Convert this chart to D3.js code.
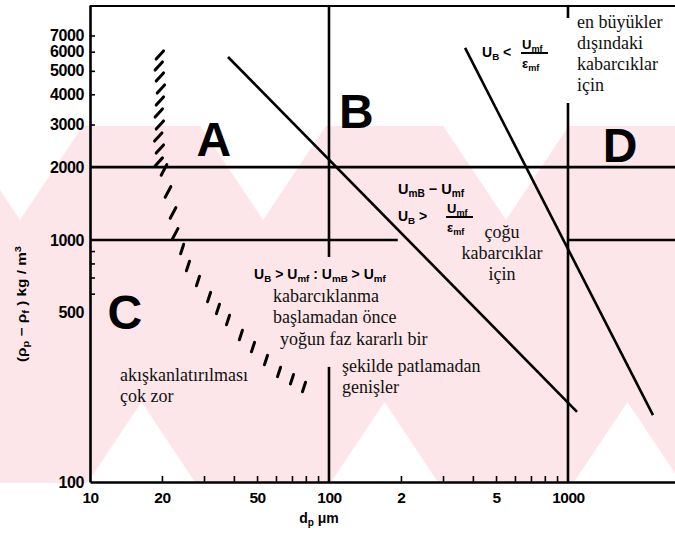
<!DOCTYPE html>
<html><head><meta charset="utf-8">
<script src="https://cdn.jsdelivr.net/npm/d3@7/dist/d3.min.js"></script>
<style>
body{margin:0;background:#fff}
svg{display:block}
.tick line{stroke:#000;stroke-width:1.6}
</style>
</head><body>
<svg id="chart" width="675" height="545"></svg>
<script>
// ---------- DATA ----------
const yTickValues = [100, 500, 1000, 2000, 3000, 4000, 5000, 6000, 7000];
const yMinorTicks = [600, 700, 800, 900, 3000, 4000, 5000, 6000, 7000];
const xTickValues = [10, 20, 50, 100, 200, 500, 1000];
const xTickText = ["10", "20", "50", "100", "2", "5", "1000"];
const xMinorTicks = [20, 30, 40, 50, 60, 70, 80, 90, 200, 300, 400, 500, 600, 700, 800, 900];

// group boundary lines [dp (µm), Δρ (kg/m3)]
const lineAB = [[37.8, 5705], [1091, 195]];
const lineBD = [[371, 6216], [2268, 189]];

// reference grid segments
const hGrid = [[2000, 10, 2804], [1000, 10, 194], [1000, 1000, 2804]];      // [Δρ, dp from, dp to]
const vGrid = [[100, 9354, 851], [100, 299, 100], [1000, 9354, 8265], [1000, 3681, 100]]; // [dp, Δρ from, Δρ to]

// hatched A / C boundary (dash centres)
const hatchUpper = [[19.6, 5814], [19.4, 5236], [19.6, 4716], [19.8, 4207], [19.6, 3753],
                    [19.4, 3348], [19.6, 2987], [19.3, 2665], [19.6, 2377], [19.4, 2101]];
const hatchMiddle = [[20.4, 1947], [21.2, 1579], [22.25, 1293], [22.7, 1059]];
const hatchLower = [[24.3, 918], [25.7, 781], [28.3, 677], [31.5, 581], [34.3, 519], [37.8, 467],
                    [42.8, 405], [48.1, 361], [54.5, 319], [61.8, 285], [70.0, 266], [78.6, 247]];

// group letters
const groupNames = ["A", "B", "C", "D"];
const groupPos = [[33.0, 2230], [130, 2900], [14.0, 430], [1650, 2110]];

// serif annotations: [dp, Δρ, anchor] + lines
const noteAnchors = [[13.35, 261.5, "start"], [58.3, 554, "start"], [62.4, 368, "start"],
                     [113.4, 285, "start"], [530, 1019, "middle"], [1091, 7500, "start"]];
const noteLines = [["akışkanlatırılması", "çok zor"],
                   ["kabarcıklanma", "başlamadan önce"],
                   ["yoğun faz kararlı bir"],
                   ["şekilde patlamadan", "genişler"],
                   ["çoğu", "kabarcıklar", "için"],
                   ["en büyükler", "dışındaki", "kabarcıklar", "için"]];

// formula anchors
const f1Pos = [48.6, 690];   // U_B > U_mf : U_mB > U_mf
const f2Pos = [194.4, 1549]; // U_mB - U_mf
const f3Pos = [194.4, 1198]; // U_B > U_mf / ε_mf
const f4Pos = [436.8, 5705]; // U_B < U_mf / ε_mf

// ---------- CHART ----------
const W = 675, H = 545;
const svg = d3.select("#chart");
const x = d3.scaleLog().domain([10, 2804]).range([90, 675]);
const y = d3.scaleLog().domain([100, 9354]).range([482, 5]);

// watermark background (decorative)
const defs = svg.append("defs");
defs.append("clipPath").attr("id", "band").append("rect")
  .attr("x", 0).attr("y", 126).attr("width", W).attr("height", 357);
const wm = svg.append("g").attr("clip-path", "url(#band)");
wm.append("rect").attr("x", 0).attr("y", 126).attr("width", W).attr("height", 357).attr("fill", "#fce6e9");
const P = 243, HW = 121.5, HH = 182;
function diamond(cx, cy) {
  return `M${cx},${cy - HH}L${cx + HW},${cy}L${cx},${cy + HH}L${cx - HW},${cy}Z`;
}
for (let k = -2; k <= 3; k++) {
  wm.append("path").attr("d", diamond(263 + P * k, 38)).attr("fill", "#fff");
  wm.append("path").attr("d", diamond(141.5 + P * k, 584)).attr("fill", "#fff");
}

// axes
const axisFont = "'Liberation Sans', Arial, sans-serif";
const yLab = svg.append("g").attr("transform", `translate(${x(10)},0)`)
  .call(d3.axisLeft(y).tickValues(yTickValues).tickFormat(d3.format("d")).tickSize(0).tickPadding(6));
yLab.select(".domain").remove();
yLab.selectAll("text").attr("font-family", axisFont).attr("font-weight", "bold")
  .attr("font-size", 16).attr("fill", "#000").attr("letter-spacing", "-0.4");

const yMin = svg.append("g").attr("transform", `translate(${x(10)},0)`)
  .call(d3.axisLeft(y).tickValues(yMinorTicks).tickFormat("").tickSize(-5).tickSizeOuter(0));
yMin.select(".domain").attr("stroke", "#000").attr("stroke-width", 2.6);

const xLab = svg.append("g").attr("transform", `translate(0,${y(100)})`)
  .call(d3.axisBottom(x).tickValues(xTickValues).tickFormat((d, i) => xTickText[i]).tickSize(0).tickPadding(10));
xLab.select(".domain").remove();
xLab.selectAll("text").attr("font-family", axisFont).attr("font-weight", "bold")
  .attr("font-size", 15.5).attr("fill", "#000").attr("letter-spacing", "-0.5");

const xMin = svg.append("g").attr("transform", `translate(0,${y(100)})`)
  .call(d3.axisBottom(x).tickValues(xMinorTicks).tickFormat("").tickSize(-6).tickSizeOuter(0));
xMin.select(".domain").attr("stroke", "#000").attr("stroke-width", 2.6);

// top border
svg.append("line").attr("x1", x(10)).attr("x2", x(2804)).attr("y1", y(9354) + 1).attr("y2", y(9354) + 1)
  .attr("stroke", "#000").attr("stroke-width", 2.2);

// grid segments
svg.append("g").selectAll("line").data(hGrid).join("line")
  .attr("x1", d => x(d[1])).attr("x2", d => x(d[2]))
  .attr("y1", d => y(d[0])).attr("y2", d => y(d[0]))
  .attr("stroke", "#000").attr("stroke-width", 2.6);
svg.append("g").selectAll("line").data(vGrid).join("line")
  .attr("x1", d => x(d[0])).attr("x2", d => x(d[0]))
  .attr("y1", d => y(d[1])).attr("y2", d => y(d[2]))
  .attr("stroke", "#000").attr("stroke-width", 2.6);

// boundary lines
const line = d3.line().x(d => x(d[0])).y(d => y(d[1]));
[lineAB, lineBD].forEach(l => {
  svg.append("path").attr("d", line(l)).attr("fill", "none").attr("stroke", "#000").attr("stroke-width", 2.6);
});

// hatched boundary
function hatch(data, angleDeg, len) {
  const a = angleDeg * Math.PI / 180;
  const dx = Math.cos(a) * len / 2, dy = Math.sin(a) * len / 2;
  svg.append("g").selectAll("line").data(data).join("line")
    .attr("x1", d => x(d[0]) - dx).attr("y1", d => y(d[1]) + dy)
    .attr("x2", d => x(d[0]) + dx).attr("y2", d => y(d[1]) - dy)
    .attr("stroke", "#000").attr("stroke-width", 3).attr("stroke-linecap", "round");
}
hatch(hatchUpper, 48, 11);
hatch(hatchMiddle, 62, 12);
hatch(hatchLower, 72, 10);

// group letters
svg.append("g").selectAll("text").data(groupNames).join("text")
  .attr("x", (d, i) => x(groupPos[i][0])).attr("y", (d, i) => y(groupPos[i][1]))
  .attr("text-anchor", "middle").attr("font-family", axisFont).attr("font-weight", "bold")
  .attr("font-size", 48).attr("fill", "#000").text(d => d);

// serif notes
const serif = "'Liberation Serif', 'Times New Roman', serif";
noteLines.forEach((lines, i) => {
  const [dx, dy, anchor] = noteAnchors[i];
  const t = svg.append("text").attr("x", x(dx)).attr("y", y(dy)).attr("text-anchor", anchor)
    .attr("font-family", serif).attr("font-size", 18).attr("fill", "#111");
  lines.forEach((s, j) => {
    t.append("tspan").attr("x", x(dx)).attr("dy", j === 0 ? 0 : 21).text(s);
  });
});

// formulas
const fFont = "'Liberation Sans', Arial, sans-serif";
function rich(px, py, parts, size) {
  const t = svg.append("text").attr("x", px).attr("y", py).attr("font-family", fFont)
    .attr("font-weight", "bold").attr("font-size", size).attr("fill", "#000");
  let shift = 0;
  parts.forEach(p => {
    const sub = p[1] === "sub";
    const target = sub ? 3 : 0;
    t.append("tspan").attr("dy", target - shift).attr("font-size", sub ? size * 0.7 : size).text(p[0]);
    shift = target;
  });
  return t;
}
function frac(cx, py, num, den, size) {
  rich(cx - 13, py - 8, num, size);
  svg.append("line").attr("x1", cx - 14).attr("x2", cx + 13).attr("y1", py - 4).attr("y2", py - 4)
    .attr("stroke", "#000").attr("stroke-width", 2);
  rich(cx - 13, py + 11, den, size);
}
rich(x(f1Pos[0]), y(f1Pos[1]), [["U"], ["B", "sub"], [" > U"], ["mf", "sub"], [" : U"], ["mB", "sub"], [" > U"], ["mf", "sub"]], 14);
rich(x(f2Pos[0]), y(f2Pos[1]), [["U"], ["mB", "sub"], [" − U"], ["mf", "sub"]], 14.5);
rich(x(f3Pos[0]), y(f3Pos[1]), [["U"], ["B", "sub"], ["  >"]], 14);
frac(x(f3Pos[0]) + 62, y(f3Pos[1]), [["U"], ["mf", "sub"]], [["ε"], ["mf", "sub"]], 13);
rich(x(f4Pos[0]), y(f4Pos[1]), [["U"], ["B", "sub"], ["  <"]], 14);
frac(x(f4Pos[0]) + 53, y(f4Pos[1]), [["U"], ["mf", "sub"]], [["ε"], ["mf", "sub"]], 13);

// axis titles
const xt = svg.append("text").attr("x", 319).attr("y", 523).attr("text-anchor", "middle")
  .attr("font-family", fFont).attr("font-weight", "bold").attr("font-size", 14).attr("fill", "#000");
xt.append("tspan").text("d");
xt.append("tspan").attr("dy", 3).attr("font-size", 10).text("p");
xt.append("tspan").attr("dy", -3).text("   μm");

const yt = svg.append("text").attr("transform", "translate(26,304) rotate(-90)").attr("text-anchor", "middle")
  .attr("font-family", fFont).attr("font-weight", "bold").attr("font-size", 12.5).attr("fill", "#000")
  .attr("textLength", 116).attr("lengthAdjust", "spacingAndGlyphs");
yt.append("tspan").text("(ρ");
yt.append("tspan").attr("dy", 3).attr("font-size", 9).text("p");
yt.append("tspan").attr("dy", -3).text(" − ρ");
yt.append("tspan").attr("dy", 3).attr("font-size", 9).text("f");
yt.append("tspan").attr("dy", -3).text(" ) kg / m");
yt.append("tspan").attr("dy", -5).attr("font-size", 9).text("3");
</script>
</body></html>
